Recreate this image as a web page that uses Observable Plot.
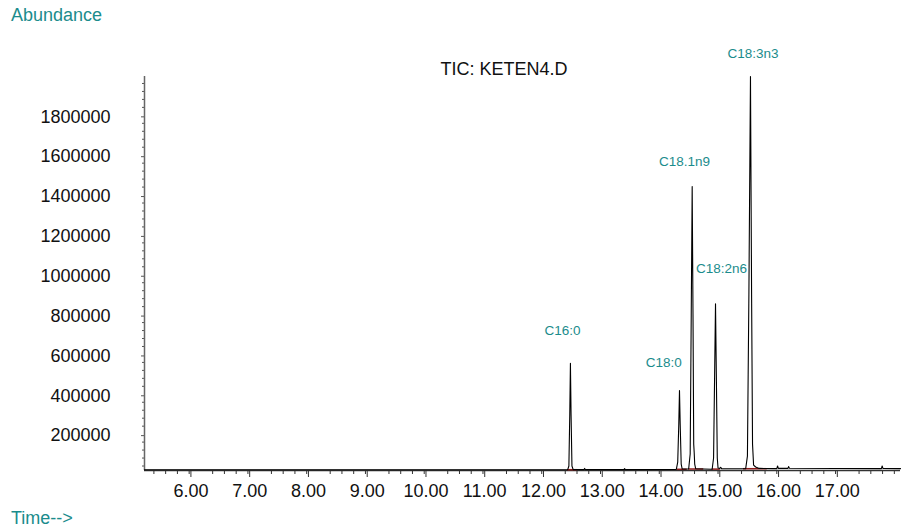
<!DOCTYPE html>
<html>
<head>
<meta charset="utf-8">
<script src="https://cdn.jsdelivr.net/npm/d3@7"></script>
<script src="https://cdn.jsdelivr.net/npm/@observablehq/plot@0.6"></script>
<style>
  html, body { margin: 0; padding: 0; background: #fff; }
  #wrap { position: relative; width: 901px; height: 532px; font-family: "Liberation Sans", Arial, sans-serif; }
  .lbl { position: absolute; font-size: 18px; line-height: 20px; white-space: nowrap; }
  #chart { position: absolute; left: 0; top: 0; }
</style>
</head>
<body>
<div id="wrap">
  <div id="chart"></div>
  <div class="lbl" style="left:11px;top:5px;color:#1b8c8c;">Abundance</div>
  <div class="lbl" style="left:504px;top:59px;color:#111;transform:translateX(-50%);">TIC: KETEN4.D</div>
  <div class="lbl" style="left:11px;top:508px;color:#1b8c8c;">Time--&gt;</div>
</div>
<script>
// ---- data ----
const xDomain = [5.04, 17.905];
const yDomain = [17500, 1995000];

const xMajorTicks = [6, 7, 8, 9, 10, 11, 12, 13, 14, 15, 16, 17];
const yMajorTicks = [200000, 400000, 600000, 800000, 1000000, 1200000, 1400000, 1600000, 1800000];

// retention time (min)
const traceTime = [
  5.04, 12.24, 12.262, 12.277, 12.288, 12.299, 12.314, 12.335,
  12.52, 12.53, 12.54, 13.20, 13.21, 13.22,
  14.09, 14.114, 14.132, 14.144, 14.156, 14.173, 14.19,
  14.30, 14.326, 14.344, 14.360, 14.374, 14.386, 14.394, 14.403, 14.42,
  14.70, 14.724, 14.742, 14.757, 14.771, 14.787, 14.80,
  14.83, 14.845, 14.86,
  15.27, 15.30, 15.325, 15.352, 15.371, 15.387, 15.405, 15.44, 15.50,
  15.80, 15.813, 15.826, 15.99, 16.0, 16.015,
  17.58, 17.593, 17.606, 17.905
];
// abundance
const traceAbund = [
  21000, 21000, 40000, 300000, 556000, 300000, 40000, 22000,
  22000, 28000, 22000, 22000, 27000, 22000,
  23000, 60000, 250000, 419000, 250000, 50000, 25000,
  25000, 100000, 800000, 1443000, 800000, 150000, 109000, 50000, 26000,
  24000, 80000, 500000, 854000, 500000, 80000, 30000,
  28000, 34000, 27000,
  26000, 90000, 900000, 1995000, 900000, 150000, 45000, 35000, 28000,
  27000, 40000, 28000, 28000, 37000, 29000,
  27000, 40000, 28000, 27000
];

// integration baselines (dark red segments under peaks)
const intStart = [12.24, 14.105, 14.30, 14.70, 15.233];
const intEnd   = [12.41, 14.275, 14.557, 14.84, 15.637];
const intLevel = [21500, 23500, 25000, 24500, 26500];

// peak labels
const peakNames = ["C16:0", "C18:0", "C18.1n9", "C18:2n6", "C18:3n3"];
const peakLabelTime = [12.152, 13.877, 14.229, 14.859, 15.395];
const peakLabelAbund = [720000, 558000, 1569000, 1030000, 2112000];

// ---- build tables ----
const trace = traceTime.map((t, i) => ({t, a: traceAbund[i]}));
const integ = intStart.map((s, i) => ({x1: s, x2: intEnd[i], y: intLevel[i]}));
const labels = peakNames.map((n, i) => ({n, t: peakLabelTime[i], a: peakLabelAbund[i]}));

const xMinorTicks = d3.range(52, 180, 2).map(v => v / 10).filter(v => Math.abs(v - Math.round(v)) > 1e-6);
const yMinorTicks = d3.range(1, 50).map(v => v * 40000).filter(v => v % 200000 !== 0 && v < yDomain[1]);

const chart = Plot.plot({
  width: 901,
  height: 532,
  marginLeft: 144,
  marginRight: 1,
  marginTop: 76,
  marginBottom: 62,
  style: {fontFamily: "'Liberation Sans', Arial, sans-serif", fontSize: "18px", color: "#111", background: "transparent", overflow: "visible"},
  x: {domain: xDomain, label: null},
  y: {domain: yDomain, label: null},
  marks: [
    Plot.axisY(yMinorTicks, {tickSize: 2, tickFormat: () => "", label: null, stroke: "#555"}),
    Plot.axisY(yMajorTicks, {tickSize: 3, tickPadding: 31, dy: 1.5, fontSize: 18, tickFormat: d => String(d), label: null, stroke: "#555"}),
    Plot.axisX(xMinorTicks, {tickSize: 4, tickFormat: () => "", label: null, stroke: "#333"}),
    Plot.axisX(xMajorTicks, {tickSize: 7, tickPadding: 7, dx: -10, fontSize: 18, tickFormat: d => d.toFixed(2), label: null, stroke: "#333"}),
    Plot.ruleX([xDomain[0]], {y1: yDomain[0], y2: yDomain[1], stroke: "#666", strokeWidth: 1.5}),
    Plot.ruleY([yDomain[0]], {stroke: "#333", strokeWidth: 1.5}),
    Plot.ruleY(integ, {x1: "x1", x2: "x2", y: "y", stroke: "#8b1a1a", strokeWidth: 1.5}),
    Plot.line(trace, {x: "t", y: "a", stroke: "#000", strokeWidth: 1.1}),
    Plot.text(labels, {x: "t", y: "a", text: "n", fill: "#1b8c8c", fontSize: 13.5, textAnchor: "middle", lineAnchor: "middle"})
  ]
});
document.getElementById("chart").appendChild(chart);
</script>
</body>
</html>
